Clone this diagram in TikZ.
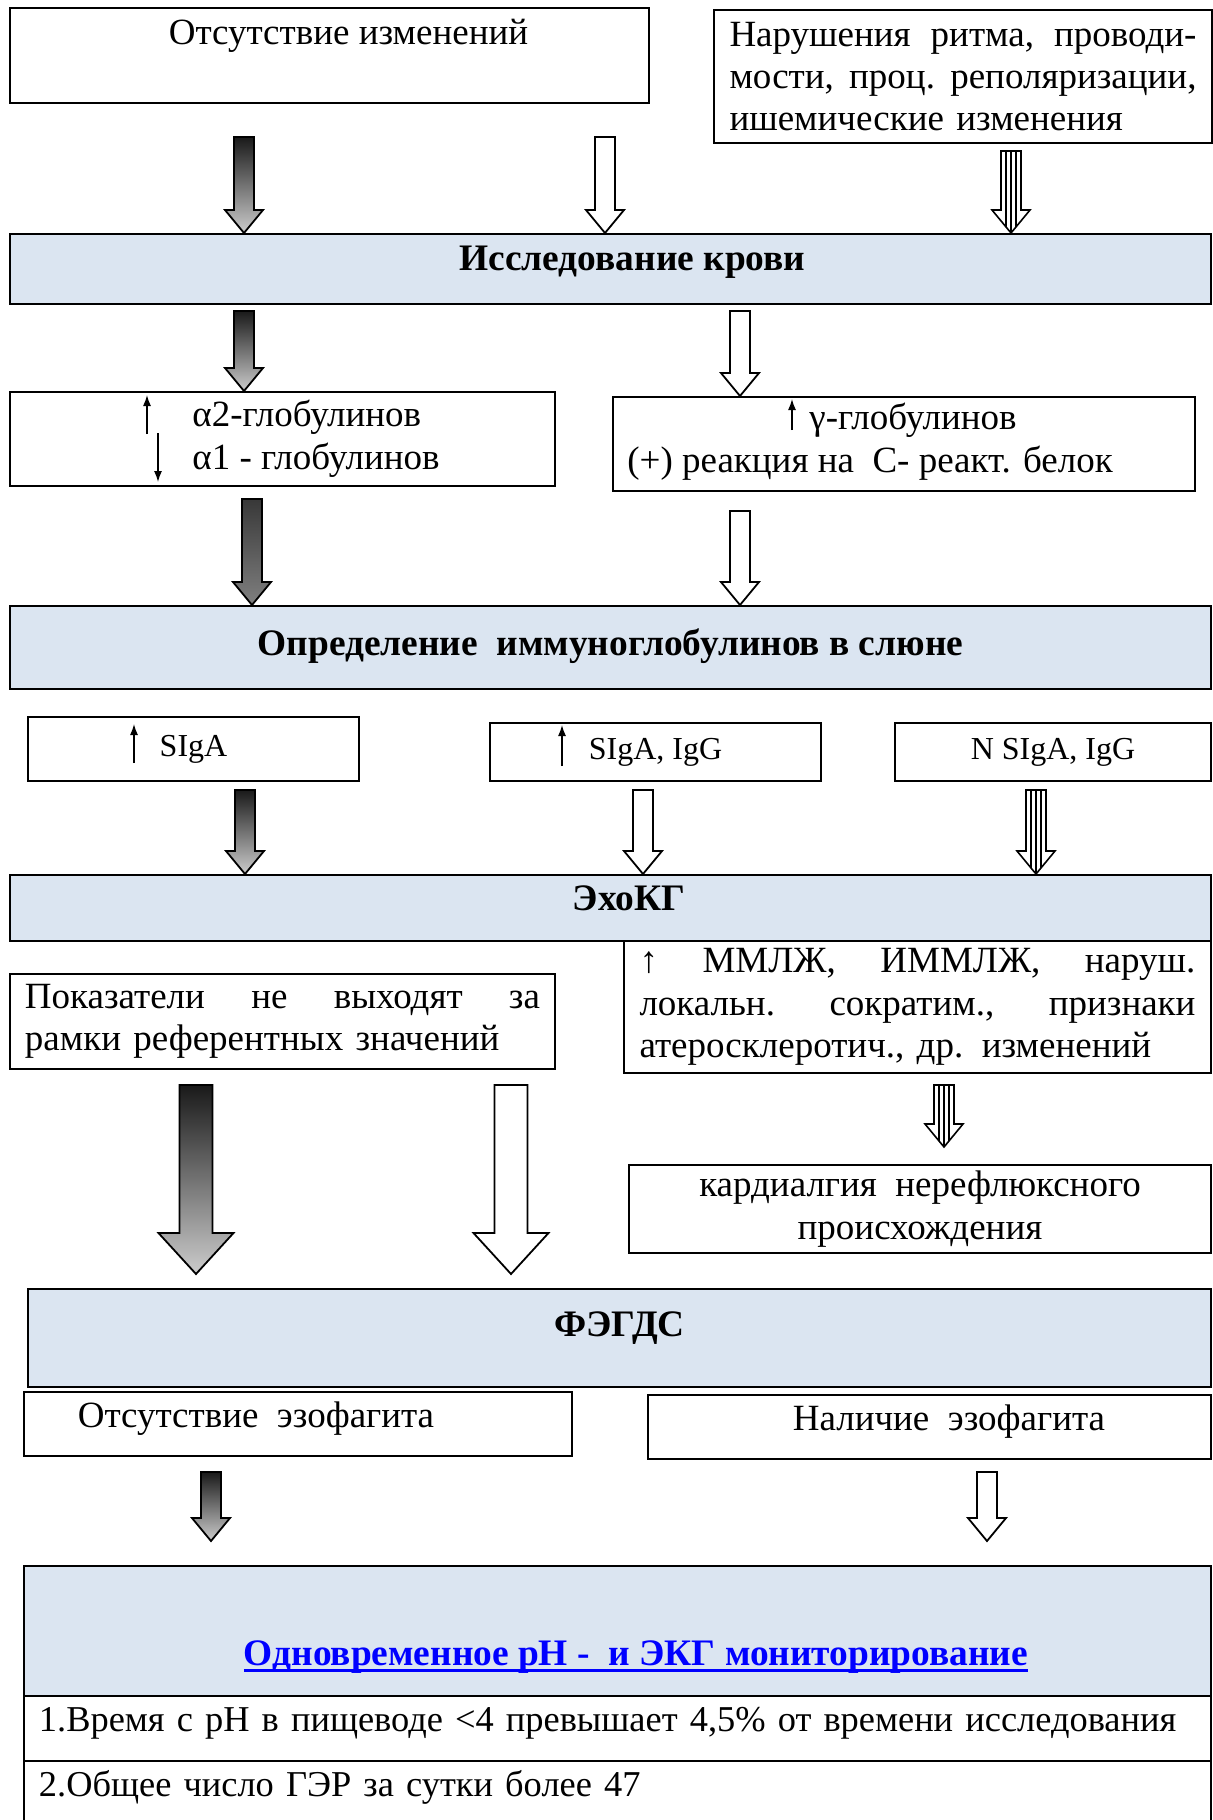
\documentclass[tikz,border=0pt]{standalone}
\usepackage{fontspec}
\setmainfont{Liberation Serif}
\usetikzlibrary{arrows.meta,calc,positioning}
\definecolor{headblue}{HTML}{DBE5F1}
\definecolor{linkblue}{HTML}{0000FF}
\newcommand\jline[2]{\makebox[#1][s]{#2}}
\newcommand\thickul[1]{\setbox0\hbox{#1}\rlap{\rule[-3.5pt]{\wd0}{1.4pt}}\box0}

\begin{document}
\begin{tikzpicture}[
    x=0.5pt, y=-0.5pt,
    font=\fontsize{18.5pt}{21.2pt}\selectfont,
    box/.style={draw, line width=1pt, anchor=north west, inner sep=0pt},
    headbox/.style={box, fill=headblue, font=\fontsize{18.7pt}{21.2pt}\selectfont\bfseries},
    smallbox/.style={box, font=\fontsize{16pt}{19pt}\selectfont},
    txt/.style={inner sep=0pt, anchor=base west, align=left},
    updown/.style={line width=0.7pt, -{Latex[length=5.5pt,width=4pt]}},
    smallarr/.code={\def\arrshaft{5pt}\def\arrhead{9.5pt}\def\arrlen{11.5pt}},
    bigarr/.code={\def\arrshaft{8.25pt}\def\arrhead{18.75pt}\def\arrlen{20.5pt}},
    blk/.style={to path={let \p1=(\tikztostart), \p2=(\tikztotarget) in
      (\x1-\arrshaft,\y1) -- (\x1+\arrshaft,\y1) -- (\x1+\arrshaft,\y2+\arrlen)
      -- (\x1+\arrhead,\y2+\arrlen) -- (\x1,\y2) -- (\x1-\arrhead,\y2+\arrlen)
      -- (\x1-\arrshaft,\y2+\arrlen) -- cycle}},
    gradarrow/.style={smallarr, blk, draw, line width=0.9pt, top color=black!90, bottom color=black!20},
    darkarrow/.style={gradarrow, top color=black!78, bottom color=black!50},
    hollowarrow/.style={smallarr, blk, draw, line width=0.9pt, fill=white},
    stripedarrow/.style={smallarr, draw, line width=0.8pt, fill=white,
      to path={let \p1=(\tikztostart), \p2=(\tikztotarget) in
      (\x1-\arrshaft,\y1) -- (\x1+\arrshaft,\y1) -- (\x1+\arrshaft,\y2+\arrlen)
      -- (\x1+\arrhead,\y2+\arrlen) -- (\x1,\y2) -- (\x1-\arrhead,\y2+\arrlen)
      -- (\x1-\arrshaft,\y2+\arrlen) -- cycle
      (\x1-0.5*\arrshaft,\y1) -- (\x1-0.5*\arrshaft,\y2+0.5*\arrlen*\arrshaft/\arrhead)
      (\x1,\y1) -- (\x1,\y2)
      (\x1+0.5*\arrshaft,\y1) -- (\x1+0.5*\arrshaft,\y2+0.5*\arrlen*\arrshaft/\arrhead)}}
  ]
  \useasboundingbox (0,0) rectangle (1212,1820);

  % ECG result
  \node[box, minimum width=319.5pt, text height=18pt, text depth=29.5pt] (nochange) at (9,7) {\hspace*{19pt}Отсутствие изменений};
  \node[box, inner xsep=7.75pt, text width=233.5pt, minimum height=66.5pt, align=left] (rhythm) at (713,9)
    {\jline{233.5pt}{Нарушения\hfill ритма,\hfill проводи-}\\
     \jline{233.5pt}{мости,\hfill проц.\hfill реполяризации,}\\
     ишемические изменения};

  % blood
  \node[headbox, minimum width=600.5pt, text height=18pt, text depth=17pt] (blood) at (9,233) {\hspace*{22pt}Исследование крови};
  \node[box, minimum width=272.5pt, minimum height=47pt] (alpha) at (9,391) {};
  \node[txt] (alphatxt) at (192,469) {α2-глобулинов\\α1 - глобулинов};
  \node[box, minimum width=291pt, minimum height=47pt] (gamma) at (612,396) {};
  \node[txt] (gammatxt) at (627,472) {\hspace*{91pt}γ-глобулинов\\(+) реакция на~ С- реакт. белок};
  \draw[updown] ([shift={(138,43)}]alpha.north west) -- ++(0,-39);
  \draw[updown] ([shift={(149,42)}]alpha.north west) -- ++(0,49);
  \draw[updown] ([shift={(180,34)}]gamma.north west) -- ++(0,-31);

  % saliva
  \node[headbox, minimum width=600.5pt, text height=24.5pt, text depth=17pt] (saliva) at (9,605) {Определение~ иммуноглобулинов в слюне};
  \node[smallbox, minimum width=165.5pt, minimum height=32pt] (siga) at (27,716) {SIgA};
  \node[smallbox, minimum width=165.5pt, minimum height=29pt] (sigaigg) at (489,722) {SIgA, IgG};
  \node[smallbox, minimum width=158pt, minimum height=29pt] (normsig) at (894,722) {N SIgA, IgG};
  \draw[updown] ([shift={(107,47)}]siga.north west) -- ++(0,-39);
  \draw[updown] ([shift={(73,44)}]sigaigg.north west) -- ++(0,-41);

  % echo
  \node[headbox, minimum width=600.5pt, text height=17.5pt, text depth=15.5pt] (echo) at (9,874) {\hspace*{18.5pt}ЭхоКГ};
  \node[box, inner xsep=7.5pt, text width=257.5pt, minimum height=47.5pt, align=left] (refvals) at (9,973)
    {\jline{257.5pt}{Показатели\hfill не\hfill выходят\hfill за}\\
     рамки референтных значений};
  \node[box, inner xsep=7.75pt, text width=278pt, minimum height=66pt, align=left] (lvmass) at (623,940)
    {\jline{278pt}{↑\hfill ММЛЖ,\hfill ИММЛЖ,\hfill наруш.}\\
     \jline{278pt}{локальн.\hfill сократим.,\hfill признаки}\\
     атеросклеротич., др. изменений};
  \node[box, minimum width=291pt, minimum height=44pt, align=center] (cardialgia) at (628,1164) {кардиалгия~ нерефлюксного\\происхождения};

  % endoscopy
  \node[headbox, minimum width=591.5pt, text height=23.5pt, text depth=25.5pt] (fegds) at (27,1288) {ФЭГДС};
  \node[box, minimum width=274pt, text height=17.5pt, text depth=14.5pt] (noeso) at (23,1391) {Отсутствие~ эзофагита\hspace*{42pt}};
  \node[box, minimum width=281.5pt, text height=17.5pt, text depth=14.5pt] (eso) at (647,1394) {\hspace*{19.5pt}Наличие~ эзофагита};

  % monitoring
  \node[headbox, minimum width=593.5pt, text height=49.5pt, text depth=15.5pt] (monitor) at (23,1565)
    {\hspace*{18.5pt}\color{linkblue}\thickul{Одновременное pH -~ и ЭКГ мониторирование}};
  \node[box, inner xsep=7.5pt, text width=578.5pt, text height=17.5pt, text depth=15pt, align=left,
    font=\fontsize{18.2pt}{21.2pt}\selectfont] (crit1) at (23,1695)
    {1.Время с pH в пищеводе <4 превышает 4,5\% от времени исследования};
  \node[box, inner xsep=7.5pt, text width=578.5pt, text height=17.5pt, text depth=17.5pt, align=left,
    font=\fontsize{18.2pt}{21.2pt}\selectfont] (crit2) at (23,1760)
    {2.Общее число ГЭР за сутки более 47};

  % block arrows
  \coordinate (a1) at (244,137);
  \coordinate (a2) at (605,137);
  \coordinate (a3) at (1011,151);
  \coordinate (a4) at (244,311);
  \coordinate (a5) at (740,311);
  \coordinate (a6) at (252,499);
  \coordinate (a7) at (740,511);
  \coordinate (a8) at (245,790);
  \coordinate (a9) at (643,790);
  \coordinate (a10) at (1036,790);
  \coordinate (a11) at (196,1085);
  \coordinate (a12) at (511,1085);
  \coordinate (a13) at (944,1085);
  \coordinate (a14) at (211,1472);
  \coordinate (a15) at (987,1472);

  \draw[gradarrow] (a1) to (a1 |- blood.north);
  \draw[hollowarrow] (a2) to (a2 |- blood.north);
  \draw[stripedarrow] (a3) to (a3 |- blood.north);
  \draw[gradarrow] (a4) to (a4 |- alpha.north);
  \draw[hollowarrow] (a5) to (a5 |- gamma.north);
  \draw[darkarrow] (a6) to (a6 |- saliva.north);
  \draw[hollowarrow] (a7) to (a7 |- saliva.north);
  \draw[gradarrow] (a8) to (a8 |- echo.north);
  \draw[hollowarrow] (a9) to (a9 |- echo.north);
  \draw[stripedarrow] (a10) to (a10 |- echo.north);
  \draw[gradarrow, bigarr] (a11) to ($(a11 |- fegds.north)+(0,-14)$);
  \draw[hollowarrow, bigarr] (a12) to ($(a12 |- fegds.north)+(0,-14)$);
  \draw[stripedarrow] (a13) to ($(a13 |- cardialgia.north)+(0,-17)$);
  \draw[gradarrow] (a14) to ($(a14 |- monitor.north)+(0,-24)$);
  \draw[hollowarrow] (a15) to ($(a15 |- monitor.north)+(0,-24)$);
\end{tikzpicture}
\end{document}
